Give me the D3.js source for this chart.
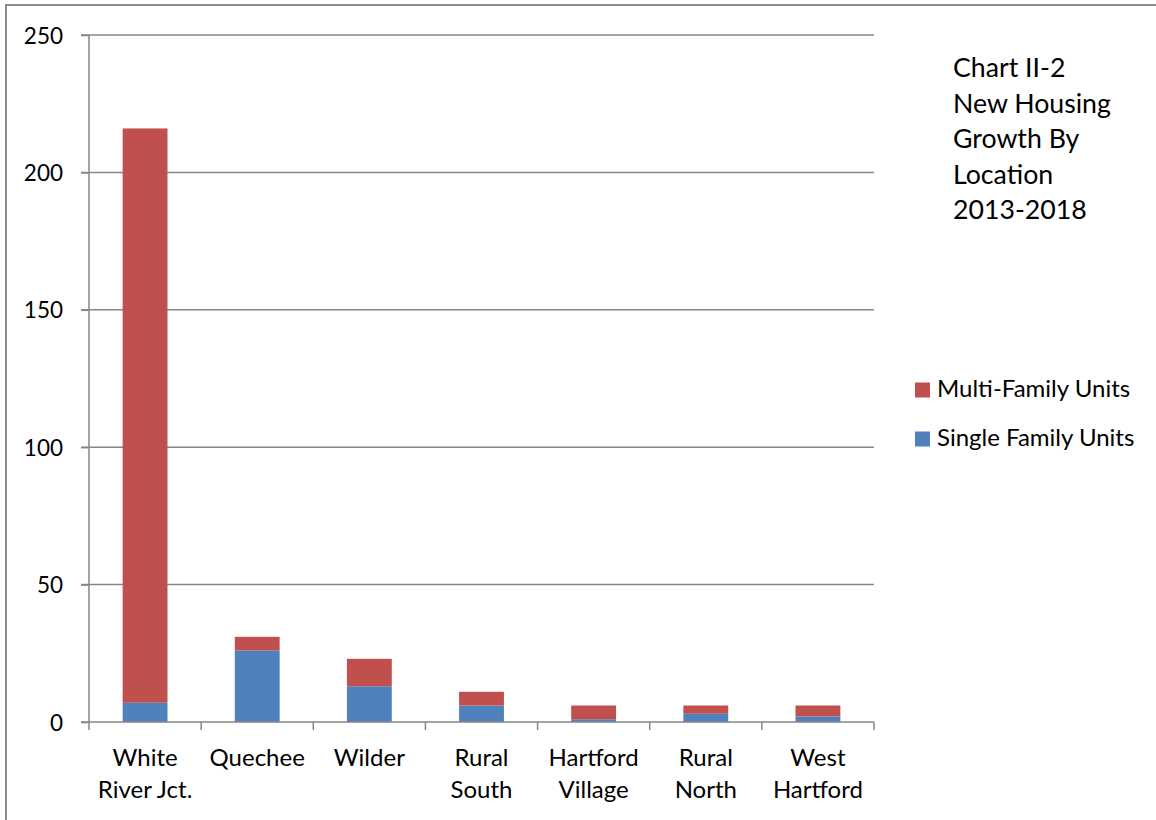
<!DOCTYPE html>
<html><head><meta charset="utf-8">
<script src="https://cdn.jsdelivr.net/npm/d3@7/dist/d3.min.js"></script>
<style>
html,body{margin:0;padding:0;background:#fff;}
svg{display:block;font-family:Lato,Carlito,"Open Sans",sans-serif;}
</style></head><body>
<script>
const categories = [["White","River Jct."],["Quechee"],["Wilder"],["Rural","South"],["Hartford","Village"],["Rural","North"],["West","Hartford"]];
const singleFamily = [7, 26, 13, 6, 1, 3, 2];
const multiFamily = [209, 5, 10, 5, 5, 3, 4];
const yTicks = [0, 50, 100, 150, 200, 250];
const seriesNames = ["Multi-Family Units", "Single Family Units"];
const colors = {single: "#4f81bd", multi: "#c0504d"};
const titleLines = ["Chart II-2", "New Housing", "Growth By", "Location", "2013-2018"];

(function(){
const W = 1156, H = 820;
const svg = d3.select("body").append("svg").attr("width", W).attr("height", H);
svg.append("rect").attr("x", 6).attr("y", 5).attr("width", W).attr("height", H).attr("fill", "#fff").attr("stroke", "#8c8c8c").attr("stroke-width", 2);

const mLeft = 89, mRight = 874, mTop = 35, mBottom = 722;
const labels = categories.map(c => c.join(" "));
const x = d3.scaleBand().domain(labels).range([mLeft, mRight]).paddingInner(0.6).paddingOuter(0.3);
const xb = d3.scaleBand().domain(labels).range([mLeft, mRight]);
const y = d3.scaleLinear().domain([0, 250]).range([mBottom, mTop]);

// gridlines
svg.append("g").selectAll("line").data(yTicks.filter(t => t > 0)).join("line")
  .attr("x1", mLeft - 8).attr("x2", mRight).attr("y1", d => y(d)).attr("y2", d => y(d))
  .attr("stroke", "#868686").attr("stroke-width", 1.5);

// bars
const g = svg.append("g");
labels.forEach((lab, i) => {
  g.append("rect").attr("x", x(lab)).attr("width", x.bandwidth())
    .attr("y", y(singleFamily[i])).attr("height", y(0) - y(singleFamily[i])).attr("fill", colors.single);
  g.append("rect").attr("x", x(lab)).attr("width", x.bandwidth())
    .attr("y", y(singleFamily[i] + multiFamily[i])).attr("height", y(singleFamily[i]) - y(singleFamily[i] + multiFamily[i])).attr("fill", colors.multi);
});

// y axis
const yAxis = d3.axisLeft(y).tickValues(yTicks).tickSize(8).tickPadding(18).tickFormat(d3.format("d"));
const ya = svg.append("g").attr("transform", `translate(${mLeft},0)`).call(yAxis);
ya.select(".domain").attr("stroke", "#868686").attr("stroke-width", 1.5).attr("d", `M0,${mTop}V${mBottom}`);
ya.selectAll(".tick line").attr("stroke", "#868686").attr("stroke-width", 1.5);
ya.selectAll(".tick text").attr("font-size", 22.5).attr("fill", "#000").attr("dy", "0.36em").attr("font-family", "Lato,Carlito,'Open Sans',sans-serif");

// x axis baseline and ticks
svg.append("line").attr("x1", mLeft - 8).attr("x2", mRight).attr("y1", mBottom).attr("y2", mBottom).attr("stroke", "#868686").attr("stroke-width", 1.5);
const bounds = labels.map(l => xb(l)).concat([mRight]);
svg.append("g").selectAll("line").data(bounds).join("line")
  .attr("x1", d => d).attr("x2", d => d).attr("y1", mBottom).attr("y2", mBottom + 8)
  .attr("stroke", "#868686").attr("stroke-width", 1.5);

// x labels
labels.forEach((lab, i) => {
  const cx = xb(lab) + xb.bandwidth() / 2;
  const t = svg.append("text").attr("x", cx).attr("y", 766)
    .attr("text-anchor", "middle").attr("font-size", 24).attr("fill", "#000");
  categories[i].forEach((line, j) => t.append("tspan").attr("x", cx).attr("dy", j === 0 ? 0 : 31.5).text(line));
});

// title
const tt = svg.append("text").attr("x", 953).attr("y", 77).attr("font-size", 26.7).attr("fill", "#000");
titleLines.forEach((l, j) => tt.append("tspan").attr("x", 953).attr("dy", j === 0 ? 0 : 35.5).text(l));

// legend
const leg = [{name: seriesNames[0], c: colors.multi, y: 397}, {name: seriesNames[1], c: colors.single, y: 446}];
leg.forEach(d => {
  svg.append("rect").attr("x", 915).attr("y", d.y - 14.5).attr("width", 15).attr("height", 15).attr("fill", d.c);
  svg.append("text").attr("x", 937).attr("y", d.y).attr("font-size", 24).attr("fill", "#000").text(d.name);
});
})();
</script>
</body></html>
